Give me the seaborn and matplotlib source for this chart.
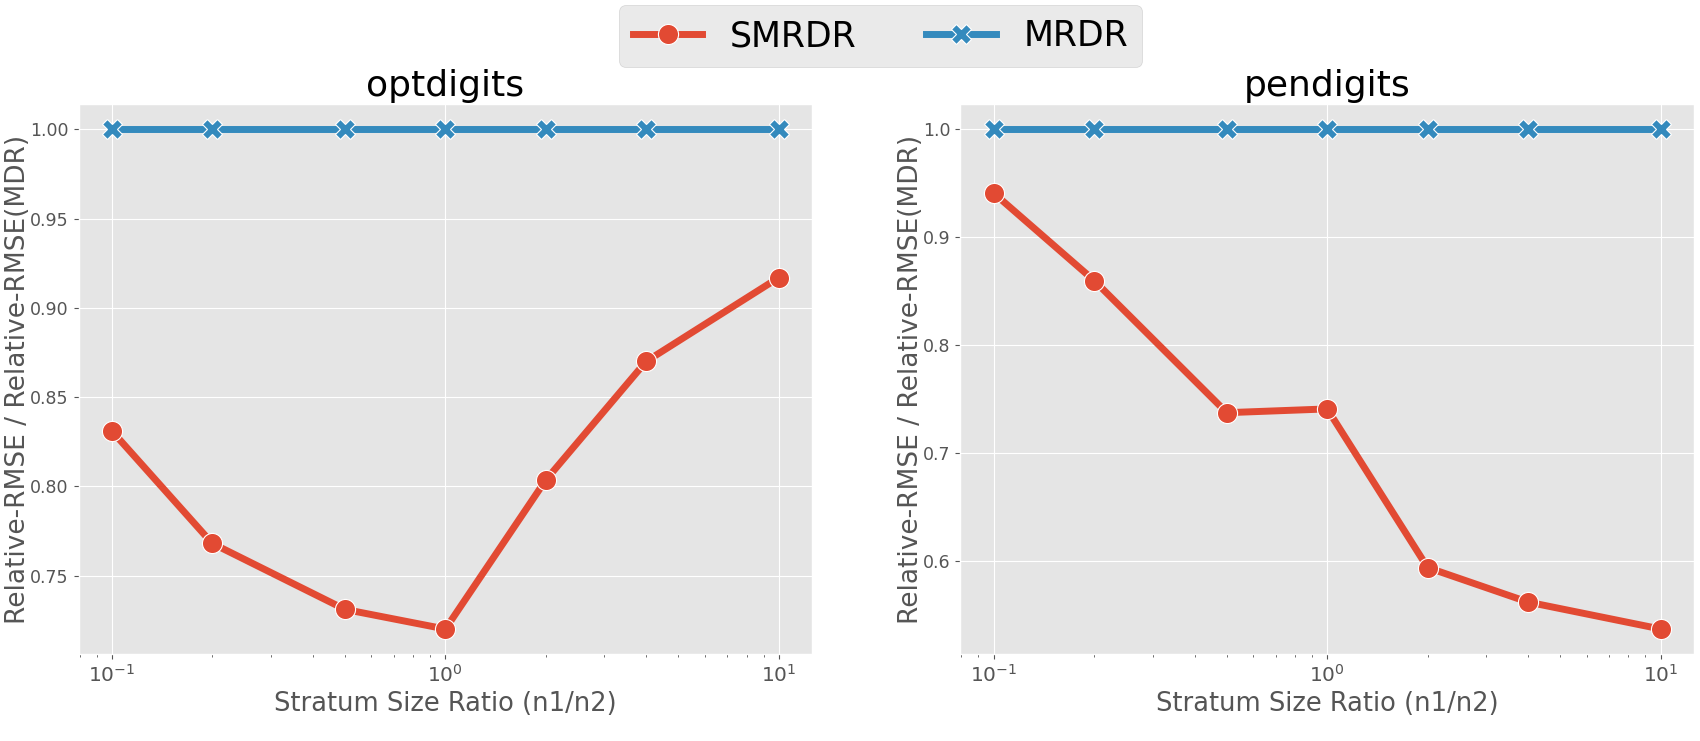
import numpy as np
import pandas as pd
import matplotlib
matplotlib.use("Agg")
import matplotlib.pyplot as plt
import seaborn as sns

plt.style.use("ggplot")

ratios = [0.1, 0.2, 0.5, 1, 2, 4, 10]
datasets = ["optdigits", "pendigits"]
methods = ["SMRDR", "MRDR"]

optdigits_smrdr = [0.831, 0.768, 0.731, 0.720, 0.8035, 0.870, 0.917]
optdigits_mrdr = [1.0, 1.0, 1.0, 1.0, 1.0, 1.0, 1.0]
pendigits_smrdr = [0.941, 0.860, 0.7375, 0.741, 0.594, 0.562, 0.537]
pendigits_mrdr = [1.0, 1.0, 1.0, 1.0, 1.0, 1.0, 1.0]

values = {
    "optdigits": {"SMRDR": optdigits_smrdr, "MRDR": optdigits_mrdr},
    "pendigits": {"SMRDR": pendigits_smrdr, "MRDR": pendigits_mrdr},
}

rows = []
for ds in datasets:
    for m in methods:
        for r, v in zip(ratios, values[ds][m]):
            rows.append({"dataset": ds, "method": m, "ratio": r, "value": v})
df = pd.DataFrame(rows)

palette = {"SMRDR": "#E24A33", "MRDR": "#348ABD"}
markers = {"SMRDR": "o", "MRDR": "X"}
label_x = {"optdigits": -0.065, "pendigits": -0.049}

fig, axes = plt.subplots(1, 2, figsize=(17, 7.41), dpi=100)
fig.subplots_adjust(left=0.0462, right=0.9965, top=0.859, bottom=0.1174, wspace=0.202)

for ax, ds in zip(axes, datasets):
    sub = df[df["dataset"] == ds]
    sns.lineplot(data=sub, x="ratio", y="value", hue="method", style="method",
                 palette=palette, markers=markers, dashes=False,
                 linewidth=5, markersize=14.5, markeredgecolor="white",
                 markeredgewidth=0.8, ax=ax)
    ax.set_xscale("log")
    ax.set_title(ds, fontsize=26, color="black")
    ax.set_xlabel("Stratum Size Ratio (n1/n2)", fontsize=18.5, color="#555555")
    ax.set_ylabel("Relative-RMSE / Relative-RMSE(MDR)", fontsize=19, color="#555555")
    ax.yaxis.set_label_coords(label_x[ds], 0.5)
    ax.tick_params(axis="x", labelsize=14.5, colors="#555555")
    ax.tick_params(axis="y", labelsize=12.5, colors="#555555")
    ax.get_legend().remove()

handles, labels = axes[0].get_legend_handles_labels()
fig.legend(handles, labels, loc="upper center", ncol=2, fontsize=25,
           bbox_to_anchor=(0.518, 1 - 5.4 / 741), borderaxespad=0)

fig.savefig("out.png")
